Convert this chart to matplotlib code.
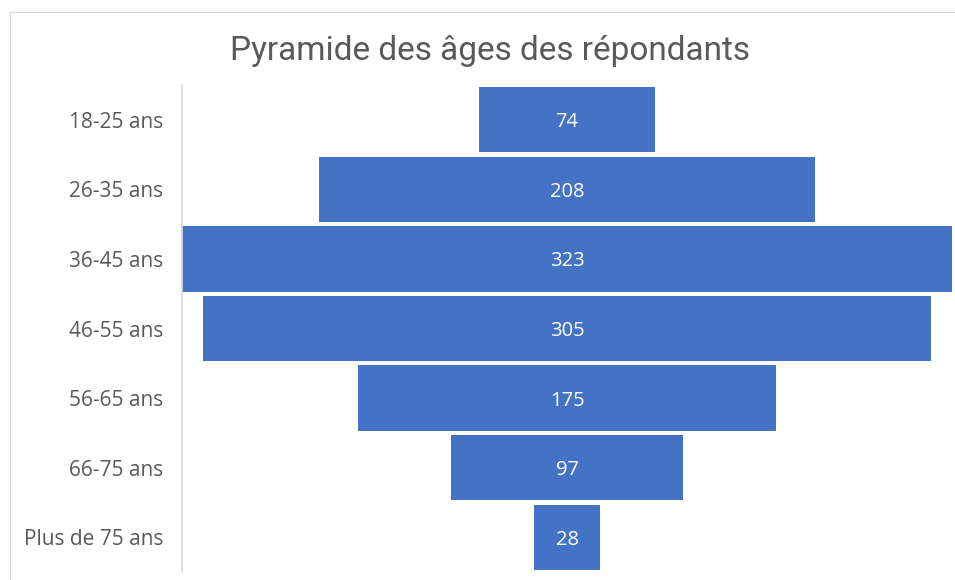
import matplotlib
matplotlib.use("Agg")
import matplotlib.pyplot as plt
from matplotlib.patches import Rectangle

categories = ["18-25 ans", "26-35 ans", "36-45 ans", "46-55 ans", "56-65 ans", "66-75 ans", "Plus de 75 ans"]
values = [74, 208, 323, 305, 175, 97, 28]
title = "Pyramide des âges des répondants"

W, H = 955, 580
fig = plt.figure(figsize=(W / 100, H / 100), dpi=100)
fig.patch.set_facecolor("white")

# chart border (cropped on right/bottom)
fig.add_artist(Rectangle((10 / W, -0.1), 1.2, 1 - 12 / H + 0.1, transform=fig.transFigure,
                         fill=False, edgecolor="#D9D9D9", linewidth=1.0))

ax = fig.add_axes([182 / W, 1 - 572 / H, (952 - 182) / W, (572 - 85) / H])
n = len(categories)
ypos = list(range(n))
vmax = max(values)
lefts = [-v / 2 for v in values]
bars = ax.barh(ypos, values, left=lefts, height=0.94, color="#4472C4")
ax.set_xlim(-vmax / 2, vmax / 2)
ax.set_ylim(n - 0.5, -0.5)
ax.set_yticks(ypos)
ax.set_yticklabels(categories, fontsize=15, color="#595959", family="Open Sans", va="center_baseline")
ax.tick_params(axis="y", length=0, pad=13.5)
ax.set_xticks([])
for s in ["top", "right", "bottom"]:
    ax.spines[s].set_visible(False)
ax.spines["left"].set_color("#D9D9D9")
ax.spines["left"].set_linewidth(1.2)
ax.set_facecolor("none")

for y, v in zip(ypos, values):
    ax.text(0, y, str(v), ha="center", va="center_baseline", color="white", fontsize=14.5, family="Open Sans")

fig.text(490 / W, 1 - 51 / H, title, ha="center", va="center", fontsize=24, color="#595959", family="Roboto")

fig.savefig("out.png", dpi=100)
